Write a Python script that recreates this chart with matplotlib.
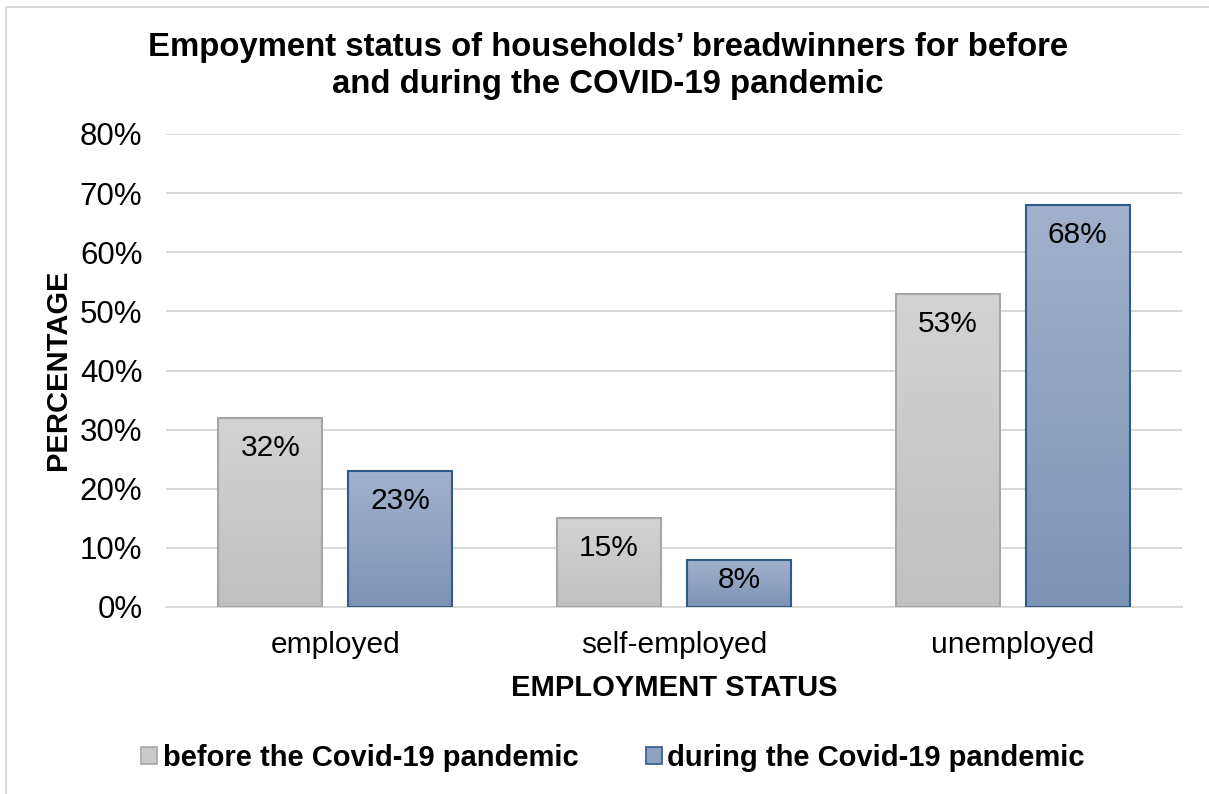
import numpy as np
import matplotlib
matplotlib.use("Agg")
import matplotlib.pyplot as plt
from matplotlib.colors import LinearSegmentedColormap
from matplotlib.patches import Rectangle
from matplotlib.ticker import PercentFormatter

plt.rcParams['font.family'] = ['Liberation Sans', 'DejaVu Sans']

categories = ["employed", "self-employed", "unemployed"]
before = [32, 15, 53]
during = [23, 8, 68]
series_names = ["before the Covid-19 pandemic", "during the Covid-19 pandemic"]
yticks = [0, 10, 20, 30, 40, 50, 60, 70, 80]

fig = plt.figure(figsize=(12.09, 7.94), dpi=100)
ax = fig.add_axes([166 / 1209, 1 - 607 / 794, (1182 - 166) / 1209, (607 - 134) / 794])

# outer frame (left and top edges)
fig.patches.append(Rectangle((6 / 1209, -0.1), 1.2, 1 - 7 / 794 + 0.1,
                             transform=fig.transFigure, fill=False,
                             edgecolor="#D9D9D9", linewidth=1.5, zorder=0))

x = np.arange(len(categories))
width = 0.307
offset = 0.192

gray_cmap = LinearSegmentedColormap.from_list("g", ["#C0C0C0", "#D3D3D3"])
blue_cmap = LinearSegmentedColormap.from_list("b", ["#7D94B7", "#A1B1CB"])

def gradient_bars(xs, vals, cmap, edge):
    bars = ax.bar(xs, vals, width, facecolor="none", edgecolor=edge,
                  linewidth=1.5, zorder=3)
    grad = np.linspace(0, 1, 256).reshape(-1, 1)
    for b in bars:
        x0, w, h = b.get_x(), b.get_width(), b.get_height()
        im = ax.imshow(grad, cmap=cmap, origin="lower", aspect="auto",
                       extent=[x0, x0 + w, 0, h], zorder=2)
        im.set_clip_path(b)
    return bars

b1 = gradient_bars(x - offset, before, gray_cmap, "#A6A6A6")
b2 = gradient_bars(x + offset, during, blue_cmap, "#2E5C8A")

# value labels just inside the bar tops; short bars keep the label inside
for bars, vals in ((b1, before), (b2, during)):
    for b, v in zip(bars, vals):
        ypos = max(v - 5.1, v / 2 + 0.5)
        ax.text(b.get_x() + b.get_width() / 2, ypos, f"{v}%",
                ha="center", va="center", fontsize=21.5, color="#000000", zorder=4)

ax.set_xlim(-0.5, 2.5)
ax.set_ylim(0, 80)
ax.set_yticks(yticks)
ax.yaxis.set_major_formatter(PercentFormatter(decimals=0))
ax.set_xticks(x)
ax.set_xticklabels(categories)
ax.tick_params(axis="both", length=0, colors="#000000")
ax.tick_params(axis="x", pad=17, labelsize=21.5)
ax.tick_params(axis="y", pad=17, labelsize=22.5)
ax.grid(axis="y", color="#D9D9D9", linewidth=1.5, zorder=0)
ax.set_axisbelow(True)
for s in ("top", "right", "left"):
    ax.spines[s].set_visible(False)
ax.spines["bottom"].set_color("#D9D9D9")
ax.spines["bottom"].set_linewidth(1.5)

ax.set_xlabel("EMPLOYMENT STATUS", fontsize=21, fontweight="bold", labelpad=11)
ax.set_ylabel("PERCENTAGE", fontsize=21, fontweight="bold", va="center")
ax.yaxis.set_label_coords(58 / 1209, 1 - 370 / 794, transform=fig.transFigure)

fig.text(608 / 1209, 1 - 66 / 794,
         "Empoyment status of households’ breadwinners for before\nand during the COVID-19 pandemic",
         ha="center", va="center", fontsize=23.7, fontweight="bold", linespacing=1.25)

handles = [Rectangle((0, 0), 1, 1, facecolor="#C9C9C9", edgecolor="#A6A6A6", linewidth=1.2),
           Rectangle((0, 0), 1, 1, facecolor="#8FA3C1", edgecolor="#2E5C8A", linewidth=1.2)]
fig.legend(handles, series_names, loc="center", bbox_to_anchor=(613 / 1209, 1 - 758 / 794),
           ncol=2, frameon=False, prop={"weight": "bold", "size": 21},
           handlelength=0.55, handleheight=0.55, handletextpad=0.2, columnspacing=2.3)

fig.savefig("out.png", dpi=100, facecolor="white")
